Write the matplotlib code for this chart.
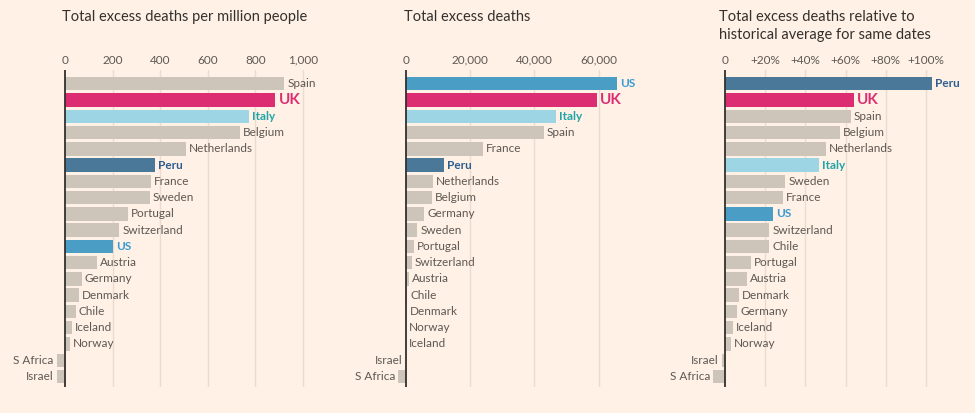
import numpy as np
import matplotlib
matplotlib.use('Agg')
import matplotlib.pyplot as plt

plt.rcParams['font.family'] = ['Lato', 'DejaVu Sans']

# Panel 1: per million people
countries_pm = ['Spain', 'UK', 'Italy', 'Belgium', 'Netherlands', 'Peru', 'France', 'Sweden',
                'Portugal', 'Switzerland', 'US', 'Austria', 'Germany', 'Denmark', 'Chile',
                'Iceland', 'Norway', 'S Africa', 'Israel']
values_pm = [921, 884, 774, 735, 507, 379, 361, 357, 263, 228, 203, 133, 71, 60, 46, 29, 20, -35, -35]

# Panel 2: total excess deaths
countries_tot = ['US', 'UK', 'Italy', 'Spain', 'France', 'Peru', 'Netherlands', 'Belgium',
                 'Germany', 'Sweden', 'Portugal', 'Switzerland', 'Austria', 'Chile', 'Denmark',
                 'Norway', 'Iceland', 'Israel', 'S Africa']
values_tot = [65800, 59400, 46700, 43000, 23900, 11950, 8500, 8200, 5700, 3500, 2500, 1800,
              1000, 450, 120, 60, 10, -80, -2400]

# Panel 3: relative to historical average (%)
countries_rel = ['Peru', 'UK', 'Spain', 'Belgium', 'Netherlands', 'Italy', 'Sweden', 'France',
                 'US', 'Switzerland', 'Chile', 'Portugal', 'Austria', 'Denmark', 'Germany',
                 'Iceland', 'Norway', 'Israel', 'S Africa']
values_rel = [103, 64, 62.5, 57, 50, 47, 30, 29, 24, 22, 22, 13, 11, 7, 6, 4, 3, -1.6, -5.8]

titles = ['Total excess deaths per million people', 'Total excess deaths',
          'Total excess deaths relative to\nhistorical average for same dates']
ticks_pm = [0, 200, 400, 600, 800, 1000]
ticklabels_pm = ['0', '200', '400', '600', '800', '1,000']
ticks_tot = [0, 20000, 40000, 60000]
ticklabels_tot = ['0', '20,000', '40,000', '60,000']
ticks_rel = [0, 20, 40, 60, 80, 100]
ticklabels_rel = ['0', '+20%', '+40%', '+60%', '+80%', '+100%']

BG = '#FFF1E5'
GREY = '#CEC5BA'
TEXT = '#5E5854'
bar_colors = {'UK': '#DC2C72', 'Italy': '#9DD5E4', 'Peru': '#4A7898', 'US': '#4A9DC4'}
label_colors = {'UK': '#DC2C72', 'Italy': '#1FA5A8', 'Peru': '#2C5E90', 'US': '#3B9BD3'}

W, H = 975, 413
fig = plt.figure(figsize=(W / 100, H / 100), dpi=100, facecolor=BG)

# pixel layout: (left px, right px, zero px, px per unit)
panels = [
    (countries_pm, values_pm, ticks_pm, ticklabels_pm, 10, 305, 65, 0.238, 62),
    (countries_tot, values_tot, ticks_tot, ticklabels_tot, 340, 620, 406, 0.00321, 404),
    (countries_rel, values_rel, ticks_rel, ticklabels_rel, 668, 936, 725, 2.01, 719),
]
top_px, bot_px = 70, 387

for i, (cats, vals, ticks, tlabels, lpx, rpx, zpx, scale, tpx) in enumerate(panels):
    ax = fig.add_axes([lpx / W, 1 - bot_px / H, (rpx - lpx) / W, (bot_px - top_px) / H])
    ax.set_facecolor(BG)
    ax.set_xlim((lpx - zpx) / scale, (rpx - zpx) / scale)
    n = len(cats)
    ax.set_ylim(n - 0.35, -0.85)
    y = np.arange(n)
    cols = [bar_colors.get(c, GREY) for c in cats]
    ax.barh(y, vals, height=0.82, color=cols, zorder=2)
    ax.axvline(0, color='#33302E', lw=1.3, zorder=3)
    for t in ticks[1:]:
        ax.axvline(t, color='#EADCD0', lw=1, zorder=1)
    for s in ax.spines.values():
        s.set_visible(False)
    ax.set_yticks([])
    ax.xaxis.tick_top()
    ax.set_xticks(ticks)
    ax.set_xticklabels(tlabels)
    ax.tick_params(axis='x', length=0, pad=3, labelsize=8.5, labelcolor=TEXT)

    off = 3 / scale
    for yi, c, v in zip(y, cats, vals):
        col = label_colors.get(c, TEXT)
        if c == 'UK':
            kw = dict(fontsize=11, fontweight='bold')
        elif c in label_colors:
            kw = dict(fontsize=8.5, fontweight='bold')
        else:
            kw = dict(fontsize=8.5)
        if v >= 0:
            ax.text(v + off, yi, c, ha='left', va='center', color=col, **kw)
        else:
            ax.text(v - off, yi, c, ha='right', va='center', color=col, **kw)

    fig.text(tpx / W, 1 - 10 / H, titles[i], ha='left', va='top', fontsize=10.5,
             color='#33302E', linespacing=1.35)

fig.savefig('out.png', dpi=100, facecolor=BG)
